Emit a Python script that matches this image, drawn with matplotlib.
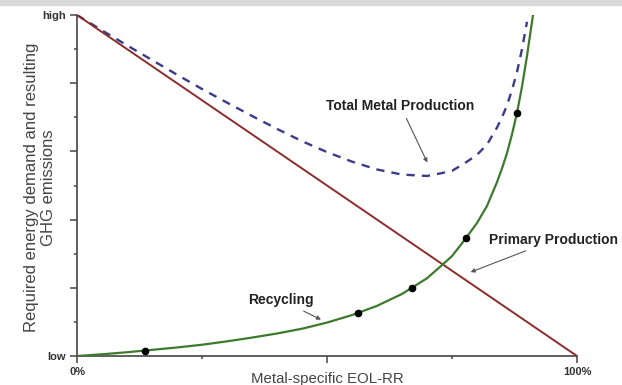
import matplotlib
matplotlib.use("Agg")
import matplotlib.pyplot as plt
from matplotlib.patches import Rectangle

plt.rcParams['font.family'] = ['Liberation Sans', 'DejaVu Sans']

# recycling rate (%) where the curves are sampled
eol_rr = [0, 5, 10, 15, 20, 25, 30, 35, 40, 45, 50, 55, 60, 65, 70, 72.5, 75,
          77.5, 80, 82, 84, 85, 86, 87, 88, 89, 90, 90.6, 91.2]

# primary production: straight line from high to low
primary_x = [0, 100]
primary_y = [10, 0]

# recycling effort, rising steeply towards full recovery
recycling_y = [0, 0.05, 0.11, 0.18, 0.25, 0.33, 0.43, 0.54, 0.66, 0.8, 0.98,
               1.2, 1.47, 1.82, 2.28, 2.6, 2.93, 3.4, 3.9, 4.4, 5.1, 5.5,
               5.95, 6.5, 7.13, 7.9, 8.8, 9.4, 10.0]

# total metal production (dashed)
total_x = [0, 5, 10, 15, 20, 25, 30, 35, 40, 45, 50, 55, 60, 65, 70, 72.5, 75,
           77.5, 80, 82, 84, 85, 86, 87, 88, 89, 90]
total_y = [10, 9.55, 9.11, 8.68, 8.25, 7.83, 7.43, 7.04, 6.66, 6.3, 5.98,
           5.7, 5.47, 5.32, 5.28, 5.35, 5.43, 5.65, 5.9, 6.2, 6.7, 7.0,
           7.35, 7.8, 8.33, 9.0, 9.8]

# marked points on the recycling curve
dots_x = [13.6, 56.1, 66.9, 77.8, 88.0]
dots_y = [0.16, 1.25, 1.98, 3.46, 7.13]

fig = plt.figure(figsize=(6.22, 3.85), dpi=100)
fig.patches.append(Rectangle((0, 1 - 5 / 385), 1, 5 / 385, transform=fig.transFigure,
                             color='#d9d9d9', zorder=0))
ax = fig.add_axes([77 / 622, 29 / 385, 500 / 622, 341 / 385])

ax.plot(primary_x, primary_y, color='#8e2b2b', lw=1.4, zorder=3)
ax.plot(eol_rr, recycling_y, color='#3d7a2c', lw=1.6, zorder=3)
ax.plot(total_x, total_y, color='#3b3b8c', lw=1.7, ls=(0, (3.5, 3)), zorder=2)
ax.plot(dots_x, dots_y, 'o', color='black', ms=4.5, zorder=4)

ax.set_xlim(0, 100)
ax.set_ylim(0, 10)
for side in ['top', 'right']:
    ax.spines[side].set_visible(False)
for side in ['left', 'bottom']:
    ax.spines[side].set_color('#444444')
    ax.spines[side].set_linewidth(1.2)

ax.set_xticks([0, 50, 100])
ax.set_xticklabels(['0%', '', '100%'])
ax.set_xticks([25, 75], minor=True)
ax.set_yticks([0, 2, 4, 6, 8, 10])
ax.set_yticklabels(['low', '', '', '', '', 'high'])
ax.set_yticks([1, 3, 5, 7, 9], minor=True)
ax.tick_params(which='major', length=5, width=1.1, color='#444444',
               labelsize=8, labelcolor='#333333', pad=3)
ax.tick_params(which='minor', length=2.5, width=1.1, color='#444444')
for lbl in ax.get_xticklabels() + ax.get_yticklabels():
    lbl.set_fontweight('bold')

ax.set_xlabel('Metal-specific EOL-RR', fontsize=10.8, color='#444444', labelpad=-4)
ax.set_ylabel('Required energy demand and resulting\nGHG emissions', fontsize=12,
              color='#444444', linespacing=1.15)
ax.yaxis.set_label_coords(-0.042, 0.495)

arrow = dict(arrowstyle='-|>', color='#555555', lw=0.8, mutation_scale=6)
ax.annotate('Total Metal Production', xy=(70.3, 5.6), xytext=(64.7, 7.33),
            ha='center', va='center', fontsize=10, fontweight='bold',
            color='#222222', arrowprops=arrow)
ax.annotate('Primary Production', xy=(78.2, 2.43), xytext=(82.4, 3.4),
            ha='left', va='center', fontsize=10, fontweight='bold',
            color='#222222', arrowprops=arrow, annotation_clip=False)
ax.annotate('Recycling', xy=(49.3, 1.03), xytext=(34.3, 1.64),
            ha='left', va='center', fontsize=10, fontweight='bold',
            color='#222222', arrowprops=arrow)

fig.savefig('out.png', dpi=100)
